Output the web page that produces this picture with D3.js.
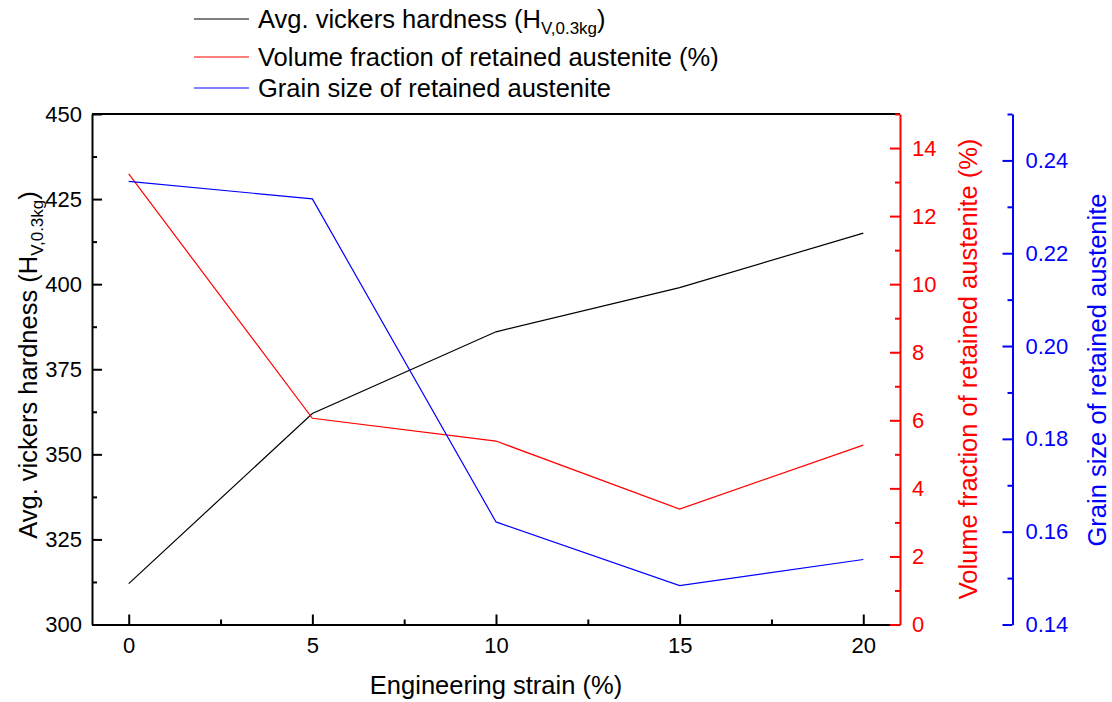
<!DOCTYPE html>
<html>
<head>
<meta charset="utf-8">
<script src="https://cdn.jsdelivr.net/npm/d3@7"></script>
<style>
  html, body { margin: 0; padding: 0; background: #fff; }
  svg { display: block; font-family: "Liberation Sans", Arial, sans-serif; }
</style>
</head>
<body>
<svg id="chart" width="1112" height="702"></svg>
<script>
// ---- data ----
const strain = [0, 5, 10, 15, 20];
const hardness = [312, 362, 386, 399, 415];
const retainedFraction = [13.24, 6.06, 5.39, 3.39, 5.27];
const grainSize = [0.2355, 0.2317, 0.1621, 0.1484, 0.1540];

const xTicks = [0, 5, 10, 15, 20];
const xMinorTicks = [2.5, 7.5, 12.5, 17.5];
const hTicks = [300, 325, 350, 375, 400, 425, 450];
const hMinorTicks = [312.5, 337.5, 362.5, 387.5, 412.5, 437.5];
const fTicks = [0, 2, 4, 6, 8, 10, 12, 14];
const fMinorTicks = [1, 3, 5, 7, 9, 11, 13, 15];
const gTicks = [0.14, 0.16, 0.18, 0.20, 0.22, 0.24];
const gMinorTicks = [0.15, 0.17, 0.19, 0.21, 0.23, 0.25];

const legendLabels = ["Avg. vickers hardness (H", "Volume fraction of retained austenite (%)", "Grain size of retained austenite"];

// ---- layout ----
const L = 92, R = 900, T = 114, B = 624.5, BLUE_X = 1012.5;
const svg = d3.select("#chart");

const x = d3.scaleLinear().domain([-1, 21]).range([L, R]);
const yH = d3.scaleLinear().domain([300, 450]).range([B, T]);
const yF = d3.scaleLinear().domain([0, 15]).range([B, T]);
const yG = d3.scaleLinear().domain([0.14, 0.25]).range([B, T]);

const MAJ = 10, MIN = 5;
const tickFont = "22px";
const titleSize = 25.5;
const subSize = 17;

function styleAxis(g, color) {
  g.select(".domain").attr("stroke", color).attr("stroke-width", 2);
  g.selectAll(".tick line").attr("stroke", color).attr("stroke-width", 2);
  g.selectAll(".tick text").attr("fill", color).style("font-size", tickFont)
    .style("font-family", "'Liberation Sans', Arial, sans-serif");
}

// frame top line
svg.append("line").attr("x1", L).attr("x2", R).attr("y1", T).attr("y2", T)
  .attr("stroke", "#000").attr("stroke-width", 2);

// bottom axis
const gx = svg.append("g").attr("transform", `translate(0,${B})`)
  .call(d3.axisBottom(x).tickValues(xTicks).tickSizeInner(-MAJ).tickSizeOuter(0).tickPadding(13).tickFormat(d3.format("d")));
styleAxis(gx, "#000");
gx.selectAll(".tick text").attr("dy", "0.71em");
const gxm = svg.append("g").attr("transform", `translate(0,${B})`)
  .call(d3.axisBottom(x).tickValues(xMinorTicks).tickSizeInner(-MIN).tickSizeOuter(0).tickFormat(""));
styleAxis(gxm, "#000");
gxm.select(".domain").remove();

// left axis
const gy = svg.append("g").attr("transform", `translate(${L},0)`)
  .call(d3.axisLeft(yH).tickValues(hTicks).tickSizeInner(-MAJ).tickSizeOuter(0).tickPadding(10).tickFormat(d3.format("d")));
styleAxis(gy, "#000");
const gym = svg.append("g").attr("transform", `translate(${L},0)`)
  .call(d3.axisLeft(yH).tickValues(hMinorTicks).tickSizeInner(-MIN).tickSizeOuter(0).tickFormat(""));
styleAxis(gym, "#000");
gym.select(".domain").remove();

// red axis
const gf = svg.append("g").attr("transform", `translate(${R},0)`)
  .call(d3.axisRight(yF).tickValues(fTicks).tickSizeInner(-MAJ).tickSizeOuter(0).tickPadding(12).tickFormat(d3.format("d")));
styleAxis(gf, "#ff0000");
const gfm = svg.append("g").attr("transform", `translate(${R},0)`)
  .call(d3.axisRight(yF).tickValues(fMinorTicks).tickSizeInner(-MIN).tickSizeOuter(0).tickFormat(""));
styleAxis(gfm, "#ff0000");
gfm.select(".domain").remove();

// blue axis
const gg = svg.append("g").attr("transform", `translate(${BLUE_X},0)`)
  .call(d3.axisRight(yG).tickValues(gTicks).tickSizeInner(-MAJ).tickSizeOuter(0).tickPadding(13).tickFormat(d3.format(".2f")));
styleAxis(gg, "#0000ff");
const ggm = svg.append("g").attr("transform", `translate(${BLUE_X},0)`)
  .call(d3.axisRight(yG).tickValues(gMinorTicks).tickSizeInner(-MIN).tickSizeOuter(0).tickFormat(""));
styleAxis(ggm, "#0000ff");
ggm.select(".domain").remove();

// lines
const series = [
  { vals: hardness, y: yH, color: "#000000" },
  { vals: retainedFraction, y: yF, color: "#ff0000" },
  { vals: grainSize, y: yG, color: "#0000ff" }
];
series.forEach(s => {
  const line = d3.line().x((d, i) => x(strain[i])).y(d => s.y(d));
  svg.append("path").datum(s.vals).attr("d", line)
    .attr("fill", "none").attr("stroke", s.color).attr("stroke-width", 1.2);
});

// axis titles
svg.append("text").attr("x", (L + R) / 2).attr("y", 694).attr("text-anchor", "middle")
  .style("font-size", titleSize + "px").text("Engineering strain (%)");

const lt = svg.append("text").attr("transform", `translate(37,365) rotate(-90)`)
  .attr("text-anchor", "middle").style("font-size", titleSize + "px");
lt.append("tspan").text("Avg. vickers hardness (H");
lt.append("tspan").attr("dy", 6).style("font-size", subSize + "px").text("V,0.3kg");
lt.append("tspan").attr("dy", -6).text(")");

svg.append("text").attr("transform", `translate(977,369) rotate(-90)`)
  .attr("text-anchor", "middle").attr("fill", "#ff0000").style("font-size", titleSize + "px")
  .text("Volume fraction of retained austenite (%)");

svg.append("text").attr("transform", `translate(1106,370) rotate(-90)`)
  .attr("text-anchor", "middle").attr("fill", "#0000ff").style("font-size", titleSize + "px")
  .text("Grain size of retained austenite");

// legend
const legendY = [19, 57, 88];
const legendColors = ["#000000", "#ff0000", "#0000ff"];
legendLabels.forEach((lab, i) => {
  svg.append("line").attr("x1", 194).attr("x2", 249).attr("y1", legendY[i]).attr("y2", legendY[i])
    .attr("stroke", legendColors[i]).attr("stroke-width", 1.2);
  const t = svg.append("text").attr("x", 258).attr("y", legendY[i] + 9).style("font-size", titleSize + "px");
  t.append("tspan").text(lab);
  if (i === 0) {
    t.append("tspan").attr("dy", 6).style("font-size", subSize + "px").text("V,0.3kg");
    t.append("tspan").attr("dy", -6).text(")");
  }
});
</script>
</body>
</html>
